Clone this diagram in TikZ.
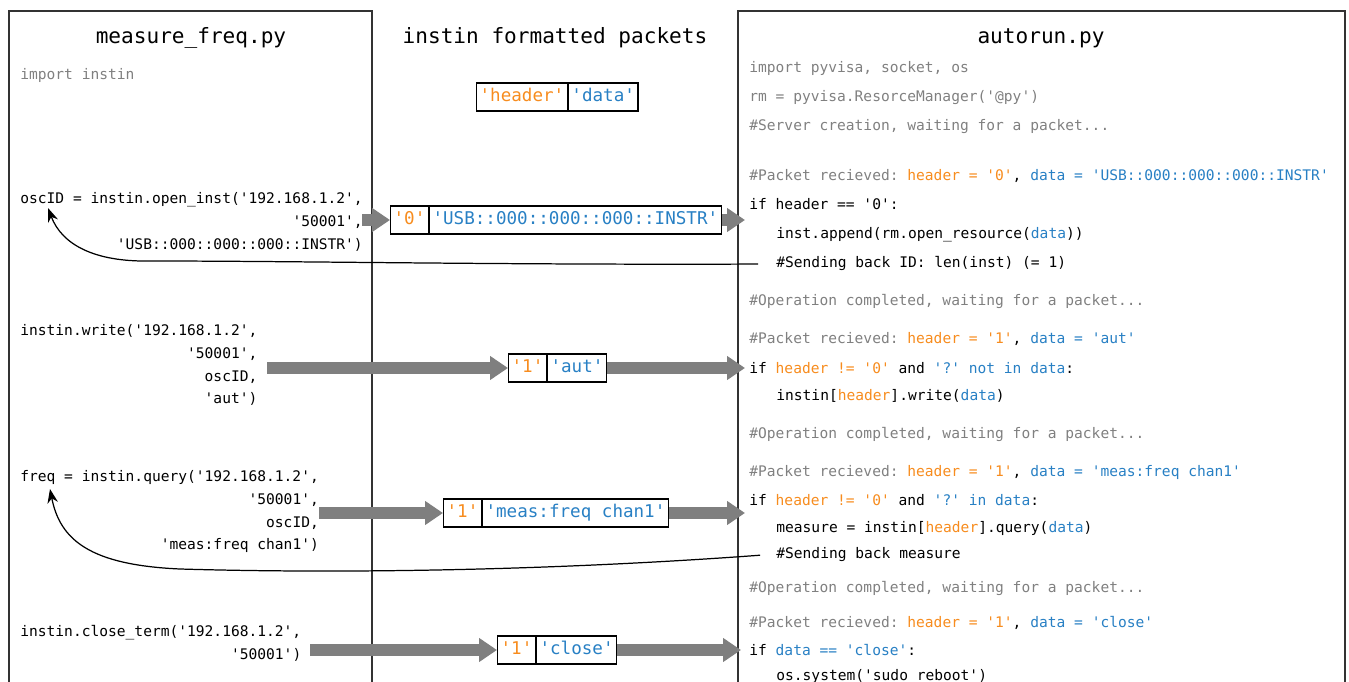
\documentclass[tikz,border=0pt]{standalone}
\usepackage{fontspec}
\setmonofont{DejaVu Sans Mono}
\usepackage{tikz}
\usetikzlibrary{arrows.meta}
\usetikzlibrary{positioning}
\usepackage{xcolor}
\definecolor{hdrorange}{RGB}{247,140,30}
\definecolor{datblue}{RGB}{40,128,196}
\definecolor{cmtgray}{RGB}{128,128,128}
\definecolor{pipegray}{RGB}{127,127,127}
\newcommand{\hdr}[1]{\textcolor{hdrorange}{#1}}
\newcommand{\dat}[1]{\textcolor{datblue}{#1}}
\newcommand{\cmt}[1]{\textcolor{cmtgray}{#1}}
\tikzset{
  code/.style={font=\fontsize{8.3pt}{13pt}\selectfont\ttfamily, inner sep=0pt},
  title/.style={font=\fontsize{12pt}{14pt}\selectfont\ttfamily},
  cell/.style={draw, line width=0.7pt, anchor=west,
    font=\fontsize{10pt}{12pt}\selectfont\ttfamily, inner xsep=0.06cm,
    inner ysep=0pt, minimum height=0.56cm, text height=0.72em, text depth=0.22em},
  pipe/.style={pipegray, line width=0.24cm, -{Triangle[length=0.36cm, width=0.46cm]}},
  back/.style={line width=0.7pt, -{Stealth[length=8pt, width=6pt]}},
  column/.style={line width=0.8pt, draw=black!80}
}

\begin{document}
\begin{tikzpicture}[x=0.02cm, y=-0.02cm]
  \useasboundingbox (0,0) rectangle (1349,682);
  \draw[column] (9,682) -- (9,11) -- (372,11) -- (372,682);
  \draw[column] (738,682) -- (738,11) -- (1345,11) -- (1345,682);

  \node[title] (ttl-cli) at (191,38) {measure\_freq.py};
  \node[title] (ttl-pkt) at (555,38) {instin formatted packets};
  \node[title] (ttl-srv) at (1041,38) {autorun.py};

  \node[code, anchor=base west] (imp) at (20,80) {\cmt{import instin}};
  \node[code, anchor=north west, align=right] (osc) at (20,192)
    {oscID = instin.open\_inst('192.168.1.2',\\'50001',\\'USB::000::000::000::INSTR')};
  \node[code, anchor=north west, align=right] (wr) at (20,324)
    {instin.write('192.168.1.2',\\'50001',\\oscID,\\'aut')};
  \node[code, anchor=north west, align=right] (qry) at (20,470)
    {freq = instin.query('192.168.1.2',\\'50001',\\oscID,\\'meas:freq chan1')};
  \node[code, anchor=north west, align=right] (cls) at (20,625)
    {instin.close\_term('192.168.1.2',\\'50001')};

  \foreach \y/\x/\t [count=\i] in {
      73/749/{\cmt{import pyvisa, socket, os}},
      102/749/{\cmt{rm = pyvisa.ResorceManager('@py')}},
      131/749/{\cmt{\#Server creation, waiting for a packet...}},
      181/749/{\cmt{\#Packet recieved:} \hdr{header = '0'}, \dat{data = 'USB::000::000::000::INSTR'}},
      210/749/{if header == '0':},
      239/776/{inst.append(rm.open\_resource(\dat{data}))},
      268/776/{\#Sending back ID: len(inst) (= 1)},
      305/749/{\cmt{\#Operation completed, waiting for a packet...}},
      343/749/{\cmt{\#Packet recieved:} \hdr{header = '1'}, \dat{data = 'aut'}},
      373/749/{if \hdr{header != '0'} and \dat{'?' not in data}:},
      400/776/{instin[\hdr{header}].write(\dat{data})},
      438/749/{\cmt{\#Operation completed, waiting for a packet...}},
      476/749/{\cmt{\#Packet recieved:} \hdr{header = '1'}, \dat{data = 'meas:freq chan1'}},
      505/749/{if \hdr{header != '0'} and \dat{'?' in data}:},
      532/776/{measure = instin[\hdr{header}].query(\dat{data})},
      558/776/{\#Sending back measure},
      592/749/{\cmt{\#Operation completed, waiting for a packet...}},
      627/749/{\cmt{\#Packet recieved:} \hdr{header = '1'}, \dat{data = 'close'}},
      655/749/{if \dat{data == 'close'}:},
      680/776/{os.system('sudo reboot')}}
    \node[code, anchor=base west] (srv-\i) at (\x,\y) {\t};

  \node[cell] (hdr-h) at (476,97) {\hdr{'header'}};
  \node[cell, right=0pt of hdr-h] (hdr-d) {\dat{'data'}};
  \node[cell] (p0h) at (390,220) {\hdr{'0'}};
  \node[cell, right=0pt of p0h] (p0d) {\dat{'USB::000::000::000::INSTR'}};
  \node[cell] (p1h) at (508,368) {\hdr{'1'}};
  \node[cell, right=0pt of p1h] (p1d) {\dat{'aut'}};
  \node[cell] (p2h) at (443,513) {\hdr{'1'}};
  \node[cell, right=0pt of p2h] (p2d) {\dat{'meas:freq chan1'}};
  \node[cell] (p3h) at (497,650) {\hdr{'1'}};
  \node[cell, right=0pt of p3h] (p3d) {\dat{'close'}};

  \coordinate (osc out) at (362,220);
  \coordinate (wr out) at (267,368);
  \coordinate (qry out) at (319,513);
  \coordinate (cls out) at (310,650);
  \coordinate (osc tip) at (48,208);
  \coordinate (freq tip) at (50,489);

  \draw[pipe] (osc out) -- (p0h.west);
  \draw[pipe, shorten >=0.08cm] (p0d.east) -- (p0d.east -| srv-5.west);
  \draw[pipe] (wr out) -- (p1h.west);
  \draw[pipe, shorten >=0.08cm] (p1d.east) -- (p1d.east -| srv-10.west);
  \draw[pipe] (qry out) -- (p2h.west);
  \draw[pipe, shorten >=0.08cm] (p2d.east) -- (p2d.east -| srv-14.west);
  \draw[pipe] (cls out) -- (p3h.west);
  \draw[pipe, shorten >=0.16cm] (p3d.east) -- (p3d.east -| srv-19.west);

  \draw[back, shorten <=0.36cm] (srv-7.west) .. controls (500,265) and (300,261) .. (150,261)
    .. controls (95,262) and (62,245) .. (osc tip);
  \draw[back, shorten <=0.32cm] (srv-16.west) .. controls (560,570) and (350,574) .. (180,569)
    .. controls (90,565) and (60,540) .. (freq tip);
\end{tikzpicture}
\end{document}
